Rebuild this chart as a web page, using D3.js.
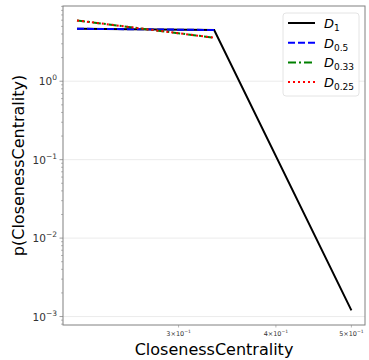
<!DOCTYPE html>
<html>
<head>
<meta charset="UTF-8">
<script src="https://d3js.org/d3.v7.min.js"></script>
<style>
  body { margin: 0; background: #fff; }
  text { font-family: "DejaVu Sans", sans-serif; }
</style>
</head>
<body>
<div id="chart"></div>
<script>
// data
let closeness = [0.2222, 0.3333, 0.5]
let d1 = [4.67, 4.5, 0.0012]
let d05 = [4.67, 4.5]
let d033 = [5.96, 3.59]
let d025 = [5.96, 3.59]
let seriesNames = ["1", "0.5", "0.33", "0.25"]
let yTicks = [1, 0.1, 0.01, 0.001]
let yTickExp = ["0", "\u22121", "\u22122", "\u22123"]
let xTicks = [0.3, 0.4, 0.5]
let xTickMant = ["3", "4", "5"]

let width = 369, height = 360
let margin = {left: 63, right: 4, top: 6, bottom: 35}

let svg = d3.select("#chart").append("svg")
    .attr("width", width).attr("height", height)

let x = d3.scaleLog().domain([0.2132, 0.5205]).range([margin.left, width - margin.right])
let y = d3.scaleLog().domain([7.8e-4, 9.1]).range([height - margin.bottom, margin.top])

// grid
svg.selectAll(".grid").data(yTicks).enter().append("line")
    .attr("x1", margin.left).attr("x2", width - margin.right)
    .attr("y1", d => y(d)).attr("y2", d => y(d))
    .attr("stroke", "#e6e6e6").attr("stroke-width", 0.8)

// minor y ticks
let minors = []
for (let e = -4; e <= 0; e++) for (let m = 2; m <= 9; m++) {
    let v = m * Math.pow(10, e)
    if (v > 7.8e-4 && v < 9.1) minors.push(v)
}
svg.selectAll(".ymin").data(minors).enter().append("line")
    .attr("x1", margin.left - 2).attr("x2", margin.left)
    .attr("y1", d => y(d)).attr("y2", d => y(d))
    .attr("stroke", "#888").attr("stroke-width", 0.6)
svg.selectAll(".ymaj").data(yTicks).enter().append("line")
    .attr("x1", margin.left - 3.5).attr("x2", margin.left)
    .attr("y1", d => y(d)).attr("y2", d => y(d))
    .attr("stroke", "#888").attr("stroke-width", 0.8)

let yl = svg.selectAll(".ylab").data(yTicks).enter().append("text")
    .attr("x", margin.left - 6).attr("y", d => y(d) + 4)
    .attr("text-anchor", "end").attr("font-size", 10.5).attr("fill", "#333")
yl.append("tspan").text("10")
yl.append("tspan").attr("dy", -5).attr("font-size", 7.5).text((d, i) => yTickExp[i])

// x ticks
svg.selectAll(".xt").data(xTicks).enter().append("line")
    .attr("x1", d => x(d)).attr("x2", d => x(d))
    .attr("y1", height - margin.bottom).attr("y2", height - margin.bottom + 2.5)
    .attr("stroke", "#888").attr("stroke-width", 0.6)
let xl = svg.selectAll(".xlab").data(xTicks).enter().append("text")
    .attr("x", d => x(d)).attr("y", height - margin.bottom + 11)
    .attr("text-anchor", "middle").attr("font-size", 6.5).attr("fill", "#333")
xl.append("tspan").text((d, i) => xTickMant[i] + "\u00d710")
xl.append("tspan").attr("dy", -3).attr("font-size", 4.5).text("\u22121")

// frame
svg.append("rect")
    .attr("x", margin.left).attr("y", margin.top)
    .attr("width", width - margin.left - margin.right)
    .attr("height", height - margin.top - margin.bottom)
    .attr("fill", "none").attr("stroke", "#808080").attr("stroke-width", 1)

let line = d3.line().x(d => x(d[0])).y(d => y(d[1]))
let series = [
    {vals: d1, color: "black", dash: null},
    {vals: d05, color: "blue", dash: "7,3"},
    {vals: d033, color: "green", dash: "8,3,2,3"},
    {vals: d025, color: "red", dash: "2,3"}
]
series.forEach(s => {
    svg.append("path")
        .datum(s.vals.map((v, i) => [closeness[i], v]))
        .attr("d", line)
        .attr("fill", "none").attr("stroke", s.color).attr("stroke-width", 2)
        .attr("stroke-dasharray", s.dash)
})

// legend
let lg = svg.append("g")
lg.append("rect").attr("x", 283).attr("y", 13).attr("width", 76).attr("height", 83)
    .attr("rx", 3).attr("fill", "white").attr("fill-opacity", 0.8)
    .attr("stroke", "#ddd").attr("stroke-width", 0.8)
series.forEach((s, i) => {
    let yy = 23 + i * 19.7
    lg.append("line").attr("x1", 288).attr("x2", 315).attr("y1", yy).attr("y2", yy)
        .attr("stroke", s.color).attr("stroke-width", 2).attr("stroke-dasharray", s.dash)
    let t = lg.append("text").attr("x", 324).attr("y", yy + 5).attr("font-size", 13)
    t.append("tspan").attr("font-style", "italic").text("D")
    t.append("tspan").attr("dy", 3).attr("font-size", 9).text(seriesNames[i])
})

// axis labels
svg.append("text").attr("x", (margin.left + width - margin.right) / 2).attr("y", 355)
    .attr("text-anchor", "middle").attr("font-size", 16).text("ClosenessCentrality")
svg.append("text").attr("transform", "translate(24," + (height - margin.bottom + margin.top) / 2 + ") rotate(-90)")
    .attr("text-anchor", "middle").attr("font-size", 16).text("p(ClosenessCentrality)")
</script>
</body>
</html>
